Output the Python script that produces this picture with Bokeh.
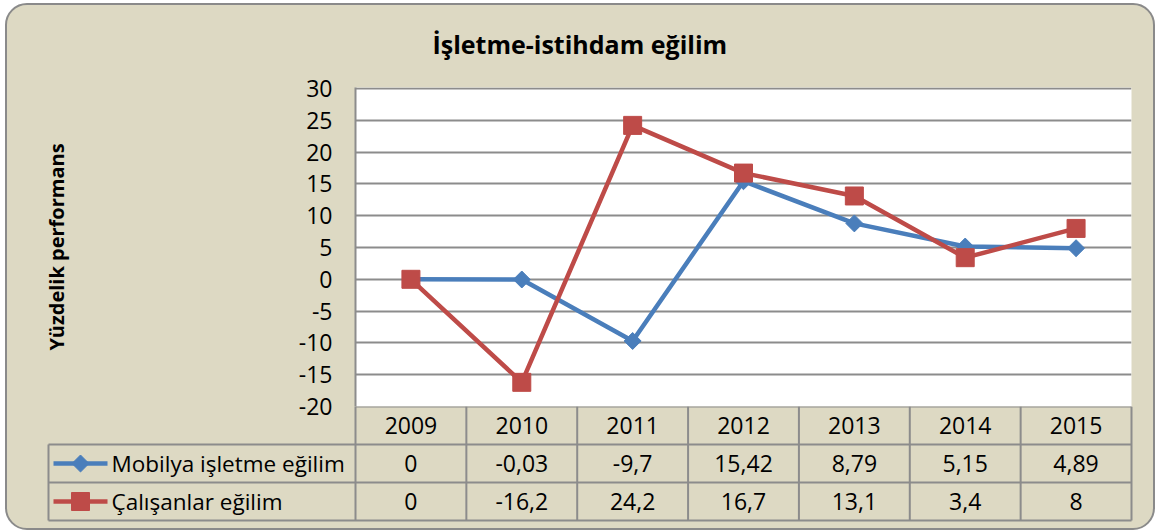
import math
from bokeh.plotting import figure
from bokeh.models import Range1d, FactorRange, SingleIntervalTicker, PrintfTickFormatter
from bokeh.layouts import column
from bokeh.embed import file_html
from bokeh.resources import INLINE
from bokeh.core.properties import value

# ---------------- data ----------------
years = ["2009", "2010", "2011", "2012", "2013", "2014", "2015"]
mobilya = [0, -0.03, -9.7, 15.42, 8.79, 5.15, 4.89]
calisanlar = [0, -16.2, 24.2, 16.7, 13.1, 3.4, 8]
series_names = ["Mobilya işletme eğilim", "Çalışanlar eğilim"]
title_text = "İşletme-istihdam eğilim"
y_label = "Yüzdelik performans"
y_min, y_max, y_step = -20, 30, 5

# ---------------- style ----------------
FONT = "Open Sans"
BG = "#DDD9C3"
GRID = "#8C8C8C"
BLUE = "#4A7EBB"
RED = "#BE4B48"
TXT = "23px"

# page-pixel layout (outer border at x 5..1155, y 3..530, 2px wide)
OX, OY = 7, 5
LIFT = 6            # main canvas starts slightly above the content box
W = 1146
FRAME_L, FRAME_R = 355, 1131
FRAME_T, FRAME_B = 87, 406
ROW_H = 38
TABLE_L = 48
PAGE_BOTTOM = 528
OVERLAP = 16

ppu_y = (FRAME_B - FRAME_T - 1) / (y_max - y_min)
u = (FRAME_R - FRAME_L) / len(years)


def px2x(px):
    return (px - FRAME_L) / u


def fmt(v):
    return f"{v:g}".replace(".", ",")


# ---------------- main chart ----------------
p = figure(width=W, height=FRAME_B - OY + OVERLAP + LIFT,
           x_range=FactorRange(*years, range_padding=0),
           y_range=Range1d(y_min, y_max + 1 / ppu_y),
           output_backend="svg", toolbar_location=None, x_axis_location=None,
           min_border_left=FRAME_L - OX, min_border_right=OX + W - FRAME_R,
           min_border_top=FRAME_T - OY + LIFT, min_border_bottom=OVERLAP,
           margin=(-LIFT, 0, 0, 0), frame_align=False)
p.background_fill_color = "white"
p.border_fill_color = None
p.outline_line_color = None
p.xgrid.visible = False
p.ygrid.grid_line_color = GRID
p.ygrid.grid_line_width = 2
p.yaxis.ticker = SingleIntervalTicker(interval=y_step)
p.ygrid.ticker = SingleIntervalTicker(interval=y_step)
p.yaxis.formatter = PrintfTickFormatter(format="%d")
p.yaxis.axis_line_color = GRID
p.yaxis.axis_line_width = 2
p.yaxis.major_tick_line_color = None
p.yaxis.minor_tick_line_color = None
p.yaxis.major_label_text_font = FONT
p.yaxis.major_label_text_font_size = TXT
p.yaxis.major_label_text_color = "black"
p.yaxis.major_label_standoff = 17
p.yaxis.axis_label = y_label
p.yaxis.axis_label_text_font = FONT
p.yaxis.axis_label_text_font_style = "bold"
p.yaxis.axis_label_text_font_size = "20px"
p.yaxis.axis_label_text_color = "black"
p.yaxis.axis_label_standoff = 226

p.title.text = title_text
p.title.align = "left"
p.title.offset = 77
p.title.vertical_align = "middle"
p.title.standoff = 52
p.title.text_font = FONT
p.title.text_font_style = "bold"
p.title.text_font_size = "25px"
p.title.text_color = "black"

p.line(years, mobilya, line_color=BLUE, line_width=4.5)
p.scatter(years, mobilya, marker="square", angle=math.pi / 4, size=12,
          fill_color=BLUE, line_color=BLUE)
p.line(years, calisanlar, line_color=RED, line_width=4.5)
p.scatter(years, calisanlar, marker="square", size=18,
          fill_color=RED, line_color=RED)

# ---------------- data table ----------------
t_frame_l, t_frame_r = TABLE_L - 2, FRAME_R + 2
t_frame_h = 3 * ROW_H + 2
t = figure(width=W, height=PAGE_BOTTOM - FRAME_B,
           x_range=Range1d(px2x(t_frame_l), px2x(t_frame_r)),
           y_range=Range1d(-2 / ROW_H, 3),
           output_backend="svg", toolbar_location=None,
           x_axis_location=None, y_axis_location=None,
           min_border_left=t_frame_l - OX, min_border_right=OX + W - t_frame_r,
           min_border_top=0, min_border_bottom=PAGE_BOTTOM - FRAME_B - t_frame_h,
           margin=(-OVERLAP, 0, 0, 0), frame_align=False)
t.background_fill_color = None
t.border_fill_color = None
t.outline_line_color = None
t.grid.visible = False

n = len(years)
x0s, y0s, x1s, y1s = [], [], [], []
x0s.append(0); y0s.append(3); x1s.append(n); y1s.append(3)
for yy in (2, 1, 0):
    x0s.append(px2x(TABLE_L)); y0s.append(yy); x1s.append(n); y1s.append(yy)
for i in range(n + 1):
    x0s.append(i); y0s.append(0); x1s.append(i); y1s.append(3)
x0s.append(px2x(TABLE_L)); y0s.append(0); x1s.append(px2x(TABLE_L)); y1s.append(2)
t.segment(x0s, y0s, x1s, y1s, line_color=GRID, line_width=2)

centers = [i + 0.5 for i in range(n)]
text_kw = dict(text_align="center", text_baseline="middle", text_font=value(FONT),
               text_font_size=TXT, text_color="black")
t.text(centers, [2.5] * n, text=years, **text_kw)
t.text(centers, [1.5] * n, text=[fmt(v) for v in mobilya], **text_kw)
t.text(centers, [0.5] * n, text=[fmt(v) for v in calisanlar], **text_kw)

# legend keys in the table's first column
for row_y, col, name, size, ang in ((1.5, BLUE, series_names[0], 12, math.pi / 4),
                                     (0.5, RED, series_names[1], 18, 0)):
    t.line([px2x(53), px2x(107)], [row_y, row_y], line_color=col, line_width=4.5)
    t.scatter([px2x(80)], [row_y], marker="square", size=size, angle=ang,
              fill_color=col, line_color=col)
    t.text([px2x(111)], [row_y], text=[name], text_align="left", text_baseline="middle",
           text_font=value(FONT), text_font_size="22.5px", text_color="black")

layout = column(p, t, spacing=0,
                styles={"background-color": BG, "border": "2px solid #8A8A8A",
                        "border-radius": "22px", "margin-left": "5px", "margin-top": "3px"})

open("out.html", "w").write(file_html(layout, INLINE))
